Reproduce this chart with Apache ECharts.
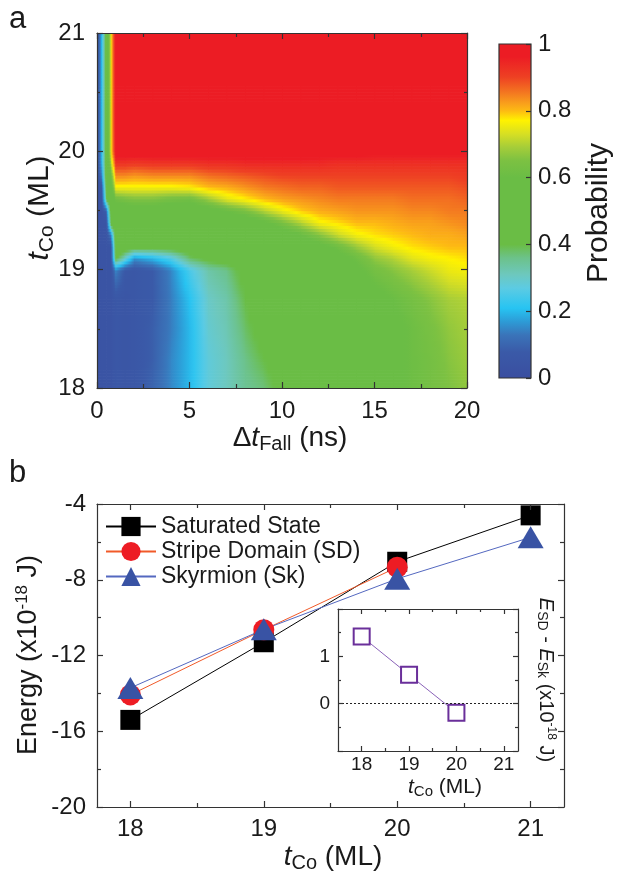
<!DOCTYPE html>
<html>
<head>
<meta charset="utf-8">
<script src="https://cdn.jsdelivr.net/npm/echarts@6/dist/echarts.min.js"></script>
<style>
  html, body { margin: 0; padding: 0; background: #fff; }
  #chart { width: 617px; height: 874px; }
</style>
</head>
<body>
<div id="chart"></div>
<script>
// ---------- Panel a: switching probability map ----------
// Fall time nodes (ns)
const deltaT = [0, 0.25, 0.5, 0.75, 1, 1.5, 2, 3, 4, 5, 6, 7, 8, 9, 10,
                11, 12, 13, 14, 15, 16, 17, 18, 19, 20];
// Co thickness nodes (ML)
const tCo = [18, 18.25, 18.5, 18.75, 19, 19.1, 19.2, 19.3, 19.4, 19.5,
             19.6, 19.7, 19.8, 19.9, 20, 20.25, 20.5, 20.75, 21];
// Probability: one row per deltaT node, values listed along tCo (18 -> 21)
const probability = [
  [.03,.03,.03,.03,.03,.03,.03,.03,.03,.03,.03,.03,.03,.03,.04,.04,.04,.04,.04],
  [.04,.04,.04,.04,.04,.04,.04,.04,.04,.04,.04,.06,.15,.20,.21,.21,.21,.21,.21],
  [.04,.04,.04,.04,.04,.04,.04,.04,.04,.10,.40,.47,.48,.48,.48,.48,.48,.48,.48],
  [.04,.04,.04,.04,.04,.04,.04,.15,.45,.49,.50,.55,.60,.70,.76,.76,.76,.76,.76],
  [.06,.06,.06,.06,.15,.42,.48,.49,.50,.53,.62,.76,.84,.92,.99,1,1,1,1],
  [.05,.05,.05,.05,.07,.30,.47,.49,.50,.54,.64,.76,.84,.92,.99,1,1,1,1],
  [.06,.06,.06,.06,.06,.16,.45,.49,.50,.55,.65,.76,.83,.91,.99,1,1,1,1],
  [.10,.09,.09,.08,.08,.20,.44,.49,.50,.55,.65,.76,.84,.92,.99,1,1,1,1],
  [.15,.15,.14,.14,.15,.26,.45,.49,.50,.54,.63,.76,.84,.92,.99,1,1,1,1],
  [.20,.20,.20,.21,.25,.38,.46,.49,.50,.53,.62,.77,.84,.92,.99,1,1,1,1],
  [.28,.28,.29,.30,.33,.42,.47,.49,.51,.56,.68,.80,.86,.93,.99,1,1,1,1],
  [.31,.31,.32,.33,.36,.44,.48,.50,.52,.60,.74,.81,.87,.93,.99,1,1,1,1],
  [.35,.36,.38,.40,.43,.46,.49,.50,.54,.64,.77,.83,.88,.94,.99,1,1,1,1],
  [.37,.40,.43,.46,.48,.49,.50,.52,.58,.70,.80,.85,.89,.94,.99,1,1,1,1],
  [.42,.45,.48,.49,.50,.50,.51,.55,.64,.75,.82,.86,.90,.94,.99,1,1,1,1],
  [.47,.49,.50,.50,.50,.51,.53,.60,.70,.79,.83,.87,.90,.94,.99,1,1,1,1],
  [.49,.50,.50,.50,.51,.53,.57,.66,.76,.81,.84,.87,.90,.94,.98,1,1,1,1],
  [.50,.50,.51,.51,.53,.56,.62,.72,.78,.82,.85,.88,.90,.93,.98,1,1,1,1],
  [.53,.53,.53,.54,.58,.61,.68,.76,.80,.83,.85,.88,.90,.93,.98,1,1,1,1],
  [.55,.55,.55,.57,.63,.67,.73,.78,.80,.83,.85,.88,.90,.93,.97,.99,1,1,1],
  [.58,.58,.58,.60,.66,.70,.76,.79,.81,.83,.85,.88,.90,.93,.97,.99,1,1,1],
  [.61,.61,.61,.63,.69,.74,.78,.80,.82,.84,.86,.88,.90,.93,.97,.99,1,1,1],
  [.63,.63,.64,.66,.72,.76,.79,.81,.82,.84,.86,.88,.90,.93,.97,.99,1,1,1],
  [.65,.66,.67,.69,.75,.77,.80,.81,.83,.85,.86,.88,.90,.93,.97,.99,1,1,1],
  [.67,.68,.69,.70,.76,.78,.80,.82,.84,.85,.87,.89,.91,.93,.97,.99,1,1,1]
];

// ---------- Panel b: state energies ----------
const tCoEnergy = [18, 19, 20, 21];
const energySaturated = [-15.4, -11.3, -7.05, -4.6];
const energyStripe = [-14.08, -10.64, -7.34];
const energySkyrmion = [-13.71, -10.62, -7.95, -5.76];
// Inset: E_SD - E_Sk
const tCoInset = [18, 19, 20];
const energyDiff = [1.42, 0.61, -0.19];

// ---------- styling ----------
const FONT = '"Liberation Sans", Arial, Helvetica, sans-serif';
const INK = '#1a1a1a';
const FRAME = '#333';

// colour scale of the probability map (value, colour)
const cmapStops = [
  [0.00, '#3a4ea0'], [0.08, '#3a5aa8'], [0.13, '#3a74b9'], [0.17, '#2d9bd6'],
  [0.21, '#27c4f2'], [0.27, '#5ccbe3'], [0.31, '#6dc8be'], [0.36, '#6cc28a'],
  [0.40, '#6abd45'], [0.60, '#6abd45'], [0.65, '#7cc142'], [0.69, '#a5cd39'],
  [0.73, '#d7df23'], [0.77, '#fff200'], [0.80, '#fdb913'], [0.82, '#f9a11b'],
  [0.85, '#f47b20'], [0.90, '#ee4023'], [0.96, '#ec1c24'], [1.00, '#ec1c24']
];
function colorAt(v) {
  v = Math.max(0, Math.min(1, v));
  for (let i = 1; i < cmapStops.length; i++) {
    const a = cmapStops[i - 1], b = cmapStops[i];
    if (v <= b[0]) {
      const t = b[0] === a[0] ? 0 : (v - a[0]) / (b[0] - a[0]);
      return echarts.color.lerp(t, [a[1], b[1]]);
    }
  }
  return cmapStops[cmapStops.length - 1][1];
}

// cells of the map: [x0, y0, x1, y1, v(x0,y0), v(x1,y0), v(x0,y1), v(x1,y1)]
const mapCells = [];
for (let i = 0; i < deltaT.length - 1; i++) {
  for (let j = 0; j < tCo.length - 1; j++) {
    mapCells.push([deltaT[i], tCo[j], deltaT[i + 1], tCo[j + 1],
      probability[i][j], probability[i + 1][j], probability[i][j + 1], probability[i + 1][j + 1]]);
  }
}

function renderMapCell(params, api) {
  const x0 = api.value(0), y0 = api.value(1), x1 = api.value(2), y1 = api.value(3);
  const v00 = api.value(4), v10 = api.value(5), v01 = api.value(6), v11 = api.value(7);
  const pA = api.coord([x0, y0]);
  const pB = api.coord([x1, y1]);
  const left = pA[0], right = pB[0], bottom = pA[1], top = pB[1];
  const h = bottom - top;
  const n = Math.max(1, Math.round(h / 3));
  const children = [];
  for (let k = 0; k < n; k++) {
    const t = (k + 0.5) / n;
    const vl = v00 + (v01 - v00) * t;
    const vr = v10 + (v11 - v10) * t;
    const stops = [0, 0.25, 0.5, 0.75, 1].map(s => ({ offset: s, color: colorAt(vl + (vr - vl) * s) }));
    const yTop = bottom - (k + 1) * h / n;
    children.push({
      type: 'rect', silent: true,
      shape: { x: left, y: yTop, width: right - left + 0.7, height: h / n + 0.7 },
      style: { fill: new echarts.graphic.LinearGradient(0, 0, 1, 0, stops) }
    });
  }
  return { type: 'group', children };
}

function renderColorbar(params, api) {
  const pA = api.coord([0, 0]);
  const pB = api.coord([1, 1]);
  const stops = cmapStops.map(s => ({ offset: 1 - s[0], color: s[1] }));
  return {
    type: 'rect',
    shape: { x: pA[0], y: pB[1], width: pB[0] - pA[0], height: pA[1] - pB[1] },
    style: { fill: new echarts.graphic.LinearGradient(0, 0, 0, 1, stops), stroke: FRAME, lineWidth: 1.2 }
  };
}

// ---------- axis helpers ----------
function frameAxis(o) {
  const ax = {
    type: 'value', gridIndex: o.grid, position: o.position, z: 10,
    min: o.min, max: o.max,
    axisLine: { show: o.line !== false, onZero: false, lineStyle: { color: FRAME, width: 1.2 } },
    axisTick: { show: true, inside: true, length: o.tickLen || 6, lineStyle: { color: FRAME, width: 1.2 } },
    axisLabel: { show: !!o.labels, margin: o.margin || 8, color: INK, fontFamily: FONT, fontSize: o.fontSize || 20 },
    splitLine: { show: false }
  };
  if (o.interval != null) ax.interval = o.interval;
  if (o.minor) ax.minorTick = { show: true, splitNumber: o.minor, length: o.minorLen || 3, lineStyle: { color: FRAME, width: 1.2 } };
  if (o.values) { ax.axisTick.customValues = o.values; ax.axisLabel.customValues = o.values; }
  if (o.formatter) ax.axisLabel.formatter = o.formatter;
  return ax;
}

const xAxes = [
  // 0,1: map
  frameAxis({ grid: 0, position: 'bottom', min: 0, max: 20, interval: 5, minor: 2, minorLen: 4, labels: true, fontSize: 24, margin: 11 }),
  frameAxis({ grid: 0, position: 'top', min: 0, max: 20, interval: 5, minor: 2, minorLen: 4 }),
  // 2: colour bar
  { type: 'value', gridIndex: 1, min: 0, max: 1, show: false },
  // 3-6: energies
  frameAxis({ grid: 2, position: 'bottom', min: 17.75, max: 21.25, values: tCoEnergy, labels: true, fontSize: 24, margin: 10 }),
  frameAxis({ grid: 2, position: 'bottom', min: 17.75, max: 21.25, values: [18.5, 19.5, 20.5], line: false, tickLen: 4 }),
  frameAxis({ grid: 2, position: 'top', min: 17.75, max: 21.25, values: tCoEnergy }),
  frameAxis({ grid: 2, position: 'top', min: 17.75, max: 21.25, values: [18.5, 19.5, 20.5], line: false, tickLen: 4 }),
  // 7-10: inset
  frameAxis({ grid: 3, position: 'bottom', min: 17.5, max: 21.3, values: [18, 19, 20, 21], labels: true, fontSize: 19, margin: 4, tickLen: 5 }),
  frameAxis({ grid: 3, position: 'bottom', min: 17.5, max: 21.3, values: [18.5, 19.5, 20.5], line: false, tickLen: 3 }),
  frameAxis({ grid: 3, position: 'top', min: 17.5, max: 21.3, values: [18, 19, 20, 21], tickLen: 5 }),
  frameAxis({ grid: 3, position: 'top', min: 17.5, max: 21.3, values: [18.5, 19.5, 20.5], line: false, tickLen: 3 })
];

const yAxes = [
  // 0,1: map
  frameAxis({ grid: 0, position: 'left', min: 18, max: 21, interval: 1, minor: 2, labels: true, fontSize: 24, margin: 12 }),
  frameAxis({ grid: 0, position: 'right', min: 18, max: 21, interval: 1, minor: 2 }),
  // 2: colour bar scale
  frameAxis({ grid: 1, position: 'right', min: 0, max: 1, interval: 0.2, labels: true, fontSize: 24, margin: 7, line: false, tickLen: 5 }),
  // 3,4: energies
  frameAxis({ grid: 2, position: 'left', min: -20, max: -4, interval: 4, minor: 2, minorLen: 4, labels: true, fontSize: 24, margin: 11 }),
  frameAxis({ grid: 2, position: 'right', min: -20, max: -4, interval: 4, minor: 2, minorLen: 4 }),
  // 5,6: inset
  frameAxis({ grid: 3, position: 'left', min: -1, max: 2, interval: 1, minor: 2, tickLen: 5, labels: true, fontSize: 19, margin: 8,
    formatter: v => (v === 0 || v === 1) ? String(v) : '' }),
  frameAxis({ grid: 3, position: 'right', min: -1, max: 2, interval: 1, minor: 2, tickLen: 5 })
];

const pairs = (xs, ys) => ys.map((y, i) => [xs[i], y]);

// rich text pieces for titles
const richBase = (size) => ({
  n: { fontFamily: FONT, fontSize: size, color: INK },
  i: { fontFamily: FONT, fontSize: size, color: INK, fontStyle: 'italic' },
  s: { fontFamily: FONT, fontSize: Math.round(size * 0.7), color: INK, padding: [Math.round(size * 0.45), 0, 0, 0] },
  p: { fontFamily: FONT, fontSize: Math.round(size * 0.62), color: INK, padding: [0, 0, Math.round(size * 0.5), 0] }
});
function title(x, y, text, size, rotation) {
  return {
    type: 'text', x, y, rotation: rotation || 0, silent: true,
    style: { text, rich: richBase(size), fontFamily: FONT, fontSize: size, fill: INK, align: 'center', verticalAlign: 'middle' }
  };
}

const option = {
  animation: false,
  backgroundColor: '#fff',
  grid: [
    { left: 97, top: 33, width: 370, height: 355 },
    { left: 499, top: 44, width: 32, height: 334 },
    { left: 97, top: 504, width: 467, height: 303 },
    { left: 338, top: 609, width: 180, height: 142 }
  ],
  xAxis: xAxes,
  yAxis: yAxes,
  legend: {
    left: 100, top: 510, orient: 'vertical',
    itemWidth: 50, itemHeight: 24, itemGap: 2,
    textStyle: { fontFamily: FONT, fontSize: 23, color: INK },
    data: ['Saturated State', 'Stripe Domain (SD)', 'Skyrmion (Sk)']
  },
  graphic: [
    { type: 'text', x: 9, y: 4, silent: true, style: { text: 'a', fontFamily: FONT, fontSize: 31, fill: INK } },
    { type: 'text', x: 9, y: 458, silent: true, style: { text: 'b', fontFamily: FONT, fontSize: 31, fill: INK } },
    title(40, 208, '{i|t}{s|Co}{n| (ML)}', 30, Math.PI / 2),
    title(290, 438, '{n|Δ}{i|t}{s|Fall}{n| (ns)}', 28, 0),
    title(599, 213, 'Probability', 30, Math.PI / 2),
    title(29, 655, '{n|Energy (x10}{p|-18}{n| J)}', 27, Math.PI / 2),
    title(333, 857, '{i|t}{s|Co}{n| (ML)}', 28, 0),
    title(445, 787, '{i|t}{s|Co}{n| (ML)}', 21, 0),
    title(546, 680, '{i|E}{s|SD}{n| - }{i|E}{s|Sk}{n| (x10}{p|-18}{n| J)}', 20, -Math.PI / 2)
  ],
  series: [
    {
      type: 'custom', name: 'probability map', xAxisIndex: 0, yAxisIndex: 0,
      data: mapCells, renderItem: renderMapCell, clip: true, silent: true,
      encode: { x: [0, 2], y: [1, 3] }
    },
    {
      type: 'custom', name: 'colour scale', xAxisIndex: 2, yAxisIndex: 2,
      data: [[0, 0, 1, 1]], renderItem: renderColorbar, silent: true,
      encode: { x: [0, 2], y: [1, 3] }
    },
    {
      type: 'line', name: 'Saturated State', xAxisIndex: 3, yAxisIndex: 3,
      data: pairs(tCoEnergy, energySaturated),
      symbol: 'rect', symbolSize: 20,
      itemStyle: { color: '#000' }, lineStyle: { color: '#000', width: 1 }
    },
    {
      type: 'line', name: 'Stripe Domain (SD)', xAxisIndex: 3, yAxisIndex: 3,
      data: pairs(tCoEnergy, energyStripe),
      symbol: 'circle', symbolSize: 21,
      itemStyle: { color: '#ed1c24' }, lineStyle: { color: '#f15a29', width: 1 }
    },
    {
      type: 'line', name: 'Skyrmion (Sk)', xAxisIndex: 3, yAxisIndex: 3,
      data: pairs(tCoEnergy, energySkyrmion),
      symbol: 'triangle', symbolSize: [26, 22],
      itemStyle: { color: '#3953a4' }, lineStyle: { color: '#5468c0', width: 1 }
    },
    {
      type: 'line', name: 'E_SD - E_Sk', xAxisIndex: 7, yAxisIndex: 5,
      data: pairs(tCoInset, energyDiff),
      symbol: 'emptyRect', symbolSize: 16,
      itemStyle: { color: '#6a2f9a', borderWidth: 2 }, lineStyle: { color: '#8a62b8', width: 1 },
      markLine: {
        silent: true, symbol: 'none', label: { show: false },
        lineStyle: { color: '#222', width: 1, type: [2, 2] },
        data: [{ yAxis: 0 }]
      }
    }
  ]
};

const chart = echarts.init(document.getElementById('chart'), null, { renderer: 'canvas' });
chart.setOption(option);
</script>
</body>
</html>
